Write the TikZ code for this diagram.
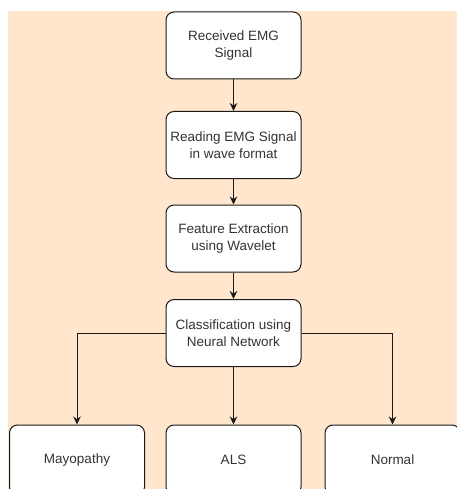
\documentclass[tikz,border=0pt]{standalone}
\usepackage{fontspec}
\setmainfont{Liberation Sans}
\usetikzlibrary{arrows.meta}
\definecolor{peach}{HTML}{FFE6CC}
\definecolor{txt}{HTML}{333333}
\definecolor{ln}{HTML}{1A1A1A}
\tikzset{
  box/.style={rectangle, rounded corners=8pt, draw=ln, line width=1pt, fill=white,
    minimum width=135pt, minimum height=67pt, align=center, text=txt,
    font=\fontsize{13.5}{17}\selectfont, inner sep=2pt},
  lowbox/.style={box, minimum height=70pt},
  arr/.style={draw=ln, line width=1pt, -{Stealth[length=8pt,width=7.5pt]}}
}
\begin{document}
\begin{tikzpicture}[x=1pt,y=-1pt]
\useasboundingbox (0,0) rectangle (457,489);
\clip (0,0) rectangle (457,489);
\fill[white] (0,0) rectangle (457,489);
\fill[peach] (8,11) rectangle (457,489);
\node[box] (b1) at (233.5,45.5) {Received EMG\\Signal};
\node[box] (b2) at (233.5,145) {Reading EMG Signal\\in wave format};
\node[box] (b3) at (233.5,238.5) {Feature Extraction\\using Wavelet};
\node[box] (b4) at (233.5,333) {Classification using\\Neural Network};
\node[lowbox] (m) at (77,460) {Mayopathy};
\node[lowbox] (a) at (233.5,460) {ALS};
\node[lowbox] (n) at (392.5,460) {Normal};
\draw[arr] (b1) -- (b2);
\draw[arr] (b2) -- (b3);
\draw[arr] (b3) -- (b4);
\draw[arr] (b4) -- (a);
\draw[arr] (b4.west) -| (m.north);
\draw[arr] (b4.east) -| (n.north);
\end{tikzpicture}
\end{document}
